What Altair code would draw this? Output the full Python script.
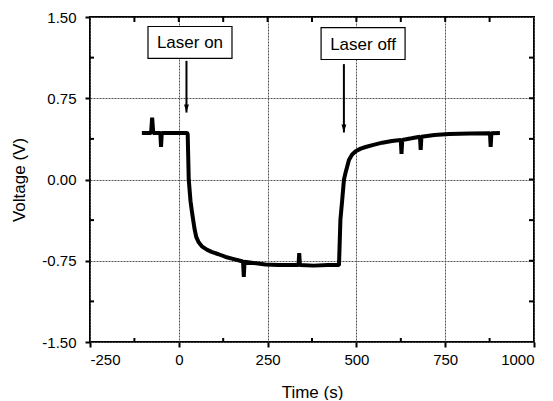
import altair as alt
import pandas as pd

# ---- data ----
time_s = [-104, -78, -75, -72, -52, -50, -48, 23, 25, 28, 33, 38, 44, 49, 56, 66, 80, 94,
          112, 132, 155, 178, 181, 183, 185, 210, 244, 280, 320, 337, 339, 341, 380, 420,
          451, 455, 460, 465, 470, 479, 488, 498, 512, 526, 548, 573, 600, 625, 627, 629,
          655, 679, 681, 683, 720, 761, 820, 876, 878, 880, 904]
voltage = [0.43, 0.43, 0.57, 0.43, 0.43, 0.30, 0.43, 0.43, 0.42, 0.0, -0.2, -0.32, -0.45,
           -0.53, -0.58, -0.62, -0.65, -0.67, -0.69, -0.715, -0.735, -0.755, -0.76, -0.90,
           -0.76, -0.77, -0.785, -0.79, -0.79, -0.79, -0.68, -0.79, -0.795, -0.79, -0.79,
           -0.37, -0.19, 0.0, 0.07, 0.18, 0.23, 0.26, 0.285, 0.30, 0.32, 0.34, 0.355, 0.365,
           0.237, 0.365, 0.38, 0.395, 0.274, 0.395, 0.41, 0.42, 0.425, 0.428, 0.30, 0.428, 0.43]

x_major = [-250, 0, 250, 500, 750, 1000]
x_minor = [-125, 125, 375, 625, 875]
y_major = [-1.5, -0.75, 0.0, 0.75, 1.5]
y_minor = [-1.125, -0.375, 0.375, 1.125]

ann_text = ["Laser on", "Laser off"]
ann_t = [31.5, 518.8]
ann_v = [1.265, 1.255]
arrow_t = [21.6, 464.8]
arrow_top = [1.095, 1.065]
arrow_tip = [0.618, 0.434]

W, H = 444, 325
FONT = "Liberation Sans"

xs = alt.Scale(domain=[-250, 1000], nice=False, zero=False)
ys = alt.Scale(domain=[-1.5, 1.5], nice=False, zero=False)
XT, YT = "Time (s)", "Voltage (V)"

df = pd.DataFrame({"t": time_s, "v": voltage})
ann = pd.DataFrame({"label": ann_text, "t": ann_t, "v": ann_v,
                    "at": arrow_t, "top": arrow_top, "tip": arrow_tip})

common_axis = dict(grid=True, domain=False, tickSize=5, tickWidth=2, tickColor="black",
                   labelFontSize=15, labelFont=FONT, labelColor="black",
                   titleFont=FONT, titleFontSize=17, titleFontWeight="normal",
                   titleColor="black", gridDash=[2, 1], gridColor="#555", gridWidth=1)

line = alt.Chart(df).mark_line(color="black", strokeWidth=4, strokeJoin="bevel").encode(
    x=alt.X("t:Q", scale=xs, title=XT,
            axis=alt.Axis(values=x_major, labelPadding=5, titlePadding=17,
                          labelExpr="datum.value < 0 ? '-' + format(-datum.value, 'd') : format(datum.value, 'd')",
                          **common_axis)),
    y=alt.Y("v:Q", scale=ys, title=YT,
            axis=alt.Axis(values=y_major, labelPadding=9, titlePadding=13,
                          labelExpr="datum.value < 0 ? '-' + format(-datum.value, '.2f') : format(datum.value, '.2f')",
                          **common_axis)),
    order=alt.Order("t:Q"),
)

tx_all = pd.DataFrame({"xt": sorted(x_major[1:-1] + x_minor)})
ty_all = pd.DataFrame({"yt": sorted(y_major[1:-1] + y_minor)})
tx_min = pd.DataFrame({"xt": x_minor})
ty_min = pd.DataFrame({"yt": y_minor})

tick_style = dict(color="black", strokeWidth=2)
bottom_minor = alt.Chart(tx_min).mark_rule(**tick_style).encode(
    x=alt.X("xt:Q", scale=xs, title=XT), y=alt.value(H), y2=alt.value(H - 4))
top_ticks = alt.Chart(tx_all).mark_rule(**tick_style).encode(
    x=alt.X("xt:Q", scale=xs, title=XT), y=alt.value(0), y2=alt.value(5))
left_minor = alt.Chart(ty_min).mark_rule(**tick_style).encode(
    y=alt.Y("yt:Q", scale=ys, title=YT), x=alt.value(0), x2=alt.value(4))
right_ticks = alt.Chart(ty_all).mark_rule(**tick_style).encode(
    y=alt.Y("yt:Q", scale=ys, title=YT), x=alt.value(W), x2=alt.value(W - 5))

arrows = alt.Chart(ann).mark_rule(color="black", strokeWidth=2).encode(
    x=alt.X("at:Q", scale=xs, title=XT),
    y=alt.Y("top:Q", scale=ys, title=YT), y2="tip:Q")
heads = alt.Chart(ann).mark_point(
    shape="M-0.3,-1L0.3,-1L0,0Z", size=256, filled=True, color="black", opacity=1
).encode(x=alt.X("at:Q", scale=xs, title=XT), y=alt.Y("tip:Q", scale=ys, title=YT))

boxes = alt.Chart(ann).mark_point(
    shape="M-1,-0.38L1,-0.38L1,0.38L-1,0.38Z", size=84 * 84, filled=True,
    fill="white", stroke="black", strokeWidth=1.2, opacity=1
).encode(x=alt.X("t:Q", scale=xs, title=XT), y=alt.Y("v:Q", scale=ys, title=YT))
labels = alt.Chart(ann).mark_text(font=FONT, fontSize=17, color="black",
                                  baseline="middle", align="center", dy=1).encode(
    x=alt.X("t:Q", scale=xs, title=XT), y=alt.Y("v:Q", scale=ys, title=YT),
    text="label:N")

chart = alt.layer(
    line, bottom_minor, top_ticks, left_minor, right_ticks, arrows, heads, boxes, labels
).properties(
    width=W, height=H,
    padding={"left": 2, "top": 2, "right": 2, "bottom": 0},
    background="white",
).configure_view(stroke="black", strokeWidth=2)

chart.save("out.html", embed_options={"renderer": "svg", "actions": False})
